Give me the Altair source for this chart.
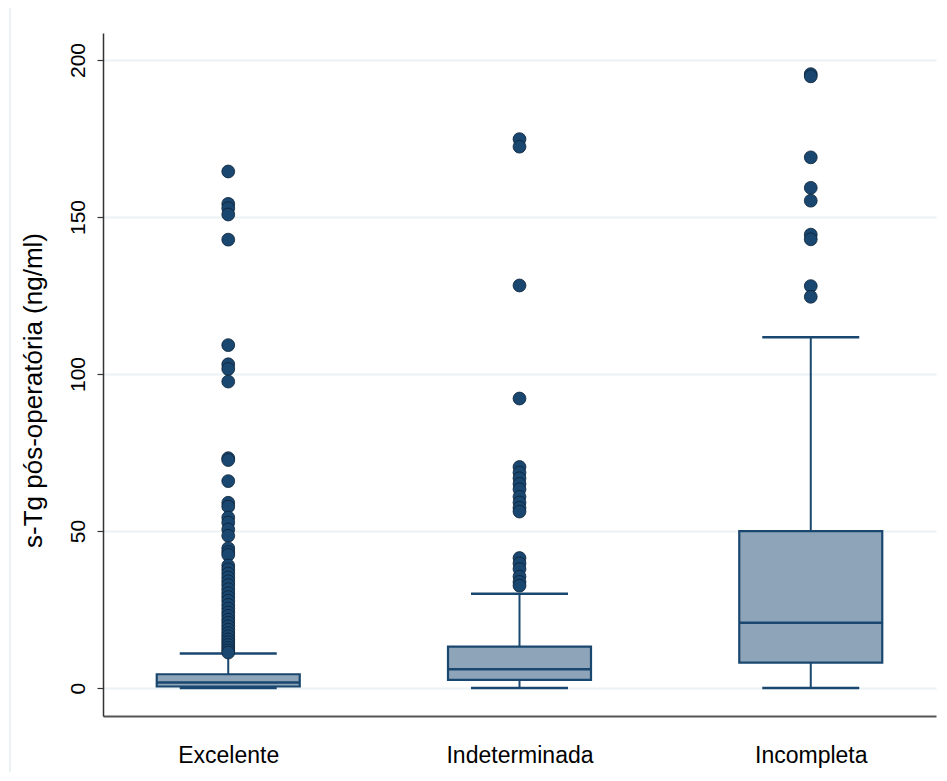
import altair as alt
import pandas as pd

categories = ["Excelente", "Indeterminada", "Incompleta"]
whisker_low = [0.0, 0.0, 0.0]
q1 = [0.5, 2.6, 8.1]
median = [1.8, 6.0, 20.8]
q3 = [4.4, 13.2, 50.0]
whisker_high = [11.0, 30.0, 111.7]

outliers_excelente = [164.5, 154.2, 152.8, 150.8, 142.8, 109.2, 103.1, 101.6, 97.6,
                      73.2, 72.6, 65.9, 59.0, 57.8, 54.3, 52.7, 50.5, 48.5, 44.5, 43.3,
                      42.4, 39.0, 37.8, 36.5, 35.2, 34.0, 32.8, 31.5, 30.2, 29.0, 27.8,
                      26.5, 25.3, 24.1, 23.0, 21.8, 20.8, 19.7, 18.6, 17.5, 16.5, 15.5,
                      14.6, 13.7, 12.8, 12.0, 11.3]
outliers_indeterminada = [174.8, 172.4, 128.2, 92.2, 70.4, 68.6, 66.8, 65.0, 63.3, 60.9,
                          59.1, 57.4, 56.2, 41.4, 39.7, 37.9, 35.5, 33.8, 32.6]
outliers_incompleta = [195.5, 194.8, 169.0, 159.3, 155.2, 144.4, 142.9, 128.0, 124.6]

NAVY = "#1a476f"
FILL = "#8ea4b8"
GRID = "#eaf2f3"
FONT = "Liberation Sans"

box_df = pd.DataFrame({"grupo": categories, "lo": whisker_low, "q1": q1,
                       "med": median, "q3": q3, "hi": whisker_high})
out_df = pd.DataFrame({
    "grupo": [categories[0]] * len(outliers_excelente)
    + [categories[1]] * len(outliers_indeterminada)
    + [categories[2]] * len(outliers_incompleta),
    "valor": outliers_excelente + outliers_indeterminada + outliers_incompleta,
})

x_enc = alt.X("grupo:N", sort=categories,
              scale=alt.Scale(type="point", padding=0.43),
              axis=alt.Axis(title=None, ticks=False, labelAngle=0, labelFontSize=23,
                            labelPadding=28, labelColor="#000", labelFont=FONT,
                            domainColor="#555", domainWidth=2, grid=False))
y_scale = alt.Scale(domain=[-8.9, 208.6], nice=False, zero=False)


def y_axis():
    return alt.Axis(title="s-Tg pós-operatória (ng/ml)", values=[0, 50, 100, 150, 200],
                    labelAngle=270, labelAlign="center", labelBaseline="bottom",
                    labelFontSize=21, labelPadding=9, labelColor="#000", labelFont=FONT,
                    tickSize=6, tickColor="#333", tickWidth=1.2,
                    domainColor="#333", domainWidth=1.5,
                    grid=True, gridColor=GRID, gridWidth=2,
                    titleFontSize=26, titleFontWeight="normal", titleColor="#000",
                    titleFont=FONT, titlePadding=21, titleY=357)


def Y(field):
    return alt.Y(f"{field}:Q", scale=y_scale, axis=y_axis())


base = alt.Chart(box_df)

whisk_low = base.mark_rule(color=NAVY, strokeWidth=2).encode(x=x_enc, y=Y("lo"), y2="q1:Q")
whisk_high = base.mark_rule(color=NAVY, strokeWidth=2).encode(x=x_enc, y=Y("q3"), y2="hi:Q")
box = base.mark_bar(size=143, fill=FILL, stroke=NAVY, strokeWidth=2.2).encode(
    x=x_enc, y=Y("q1"), y2="q3:Q")
med = base.mark_tick(size=143, thickness=2.5, color=NAVY, opacity=1).encode(x=x_enc, y=Y("med"))
cap_low = base.mark_tick(size=97, thickness=2.5, color=NAVY, opacity=1).encode(x=x_enc, y=Y("lo"))
cap_high = base.mark_tick(size=97, thickness=2.5, color=NAVY, opacity=1).encode(x=x_enc, y=Y("hi"))
points = alt.Chart(out_df).mark_circle(size=165, color=NAVY, opacity=1,
                                       stroke="#0b2239", strokeWidth=0.8).encode(
    x=x_enc, y=Y("valor"))

frame = alt.Chart(box_df).mark_rule(color=GRID, strokeWidth=2).encode(
    x=alt.value(-93), y=alt.value(-33), y2=alt.value(748))

chart = alt.layer(frame, whisk_low, whisk_high, box, med, cap_low, cap_high, points).properties(
    width=833, height=683,
    padding={"left": 95, "top": 25, "right": 3, "bottom": 56},
    autosize=alt.AutoSizeParams(type="none"),
    background="white",
).configure_view(stroke=None)

chart.save("out.html", embed_options={"renderer": "svg", "actions": False})
